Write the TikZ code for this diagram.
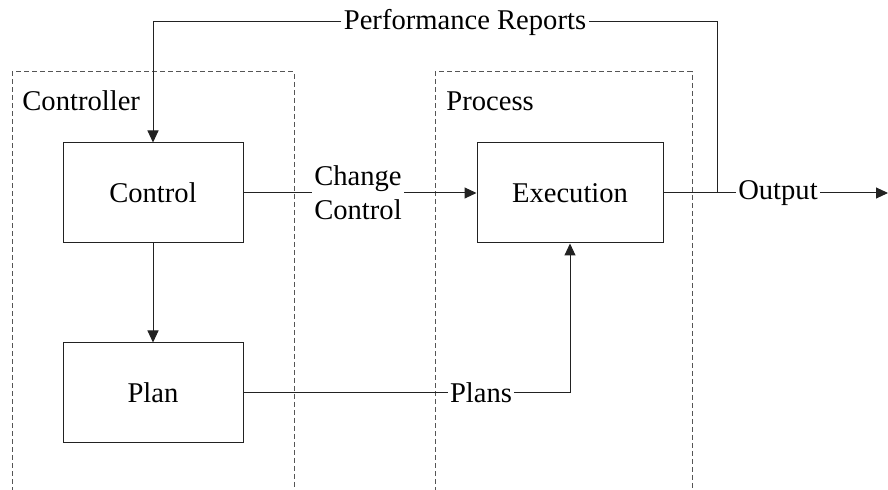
\documentclass[tikz,border=0pt]{standalone}
\usepackage{fontspec}
\setmainfont{LiberationSerif-Regular.ttf}
\newfontfamily\labelfont{LiberationSerif-Regular.ttf}
\usetikzlibrary{arrows.meta,positioning}
\definecolor{linegray}{HTML}{222222}
\definecolor{framegray}{HTML}{555555}
\tikzset{
  block/.style={
    draw=linegray,
    line width=0.5pt,
    minimum width=90pt,
    minimum height=50pt,
    align=center,
    font=\labelfont\fontsize{14.3}{17}\selectfont
  },
  frame/.style={
    draw=framegray,
    line width=0.5pt,
    dash pattern=on 2.5pt off 1.5pt
  },
  tag/.style={
    inner sep=1pt,
    align=center,
    font=\labelfont\fontsize{14.3}{17}\selectfont
  },
  flow/.style={
    draw=linegray,
    line width=0.5pt
  },
  arrow/.style={
    flow,
    -{Triangle[length=6pt,width=5.5pt]}
  }
}
\begin{document}
\begin{tikzpicture}[x=0.5pt,y=-0.5pt]
  \useasboundingbox (0,0) rectangle (888,490);

  % dashed regions, open at the bottom
  \draw[frame] (12,492) -- (12,72) -- (294,72) -- (294,492);
  \draw[frame] (435,492) -- (435,72) -- (692,72) -- (692,492);
  \node[tag, anchor=west] (ctrltitle) at (20,101) {Controller};
  \node[tag, anchor=west] (proctitle) at (444,101) {Process};

  \node[block] (control) at (153,193) {Control};
  \node[block] (plan) at (153,393) {Plan};
  \node[block, minimum width=93pt] (exec) at (570,193) {Execution};

  \node[tag] (chg) at (358,193) {Change\\Control};
  \node[tag] (plans) at (481,393) {Plans};
  \node[tag] (out) at (778,193) {Output};
  \node[tag] (perf) at (465,22) {Performance Reports};
  \coordinate (tap) at (717,193);
  \coordinate (end) at (888,193);

  \draw[flow] (control) -- (chg);
  \draw[arrow] (chg) -- (exec);
  \draw[arrow] (control) -- (plan);
  \draw[flow] (plan) -- (plans);
  \draw[arrow] (plans) -| (exec);
  \draw[flow] (exec) -- (out);
  \draw[arrow] (out) -- (end);
  \draw[flow] (tap) |- (perf);
  \draw[arrow] (perf) -| (control);
\end{tikzpicture}
\end{document}
